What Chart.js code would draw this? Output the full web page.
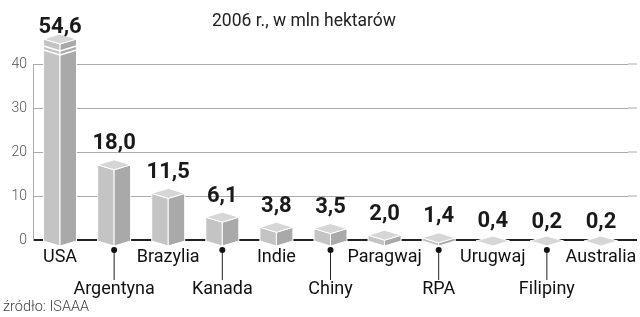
<!DOCTYPE html>
<html>
<head>
<meta charset="utf-8">
<script src="https://cdn.jsdelivr.net/npm/chart.js@4"></script>
<style>
  body { margin: 0; background: #fff; }
  #chart { display: block; }
</style>
</head>
<body>
<canvas id="chart" width="640" height="317"></canvas>
<script>
const countries = ['USA', 'Argentyna', 'Brazylia', 'Kanada', 'Indie', 'Chiny', 'Paragwaj', 'RPA', 'Urugwaj', 'Filipiny', 'Australia'];
const areas = [54.6, 18.0, 11.5, 6.1, 3.8, 3.5, 2.0, 1.4, 0.4, 0.2, 0.2];
const yTicks = [0, 10, 20, 30, 40];
const title = '2006 r., w mln hektarów';
const source = 'źródło: ISAAA';

Chart.defaults.font.family = 'Roboto, "Liberation Sans", sans-serif';

// odd labels go on the second row
const xLabels = countries.map((c, i) => i % 2 ? ['', c] : c);

// draws the 3D boxes, value labels, leader lines and texts
const boxes = {
  id: 'boxes',
  beforeDatasetsDraw(chart) {
    // gridlines run a little past the last category
    const ctx = chart.ctx;
    const y = chart.scales.y;
    const r = chart.chartArea.right;
    ctx.save();
    yTicks.forEach(t => {
      const py = y.getPixelForValue(t);
      ctx.beginPath();
      ctx.moveTo(r, py); ctx.lineTo(637, py);
      ctx.strokeStyle = t === 0 ? '#222222' : '#aaaaaa';
      ctx.lineWidth = t === 0 ? 2 : 1;
      ctx.stroke();
    });
    ctx.restore();
  },
  afterDatasetsDraw(chart) {
    const ctx = chart.ctx;
    const y = chart.scales.y;
    const base = y.getPixelForValue(0);
    const meta = chart.getDatasetMeta(0);
    ctx.save();
    meta.data.forEach((el, i) => {
      const cx = el.x;
      const w = el.width / 2;
      const h = 5;
      const v = Math.max(el.y, 35);
      const side = Math.min(v + 4, base + 1);
      const sideB = base + 1;
      const back = side - h, front = side + h, frontB = sideB + h;

      ctx.lineWidth = 1;
      ctx.strokeStyle = '#ffffff';
      ctx.lineJoin = 'round';
      // left face
      ctx.beginPath();
      ctx.moveTo(cx - w, side); ctx.lineTo(cx, front); ctx.lineTo(cx, frontB); ctx.lineTo(cx - w, sideB);
      ctx.closePath();
      ctx.fillStyle = '#c4c4c4'; ctx.fill(); ctx.stroke();
      // right face
      ctx.beginPath();
      ctx.moveTo(cx + w, side); ctx.lineTo(cx, front); ctx.lineTo(cx, frontB); ctx.lineTo(cx + w, sideB);
      ctx.closePath();
      ctx.fillStyle = '#a9a9a9'; ctx.fill(); ctx.stroke();
      // top
      ctx.beginPath();
      ctx.moveTo(cx, back); ctx.lineTo(cx + w, side); ctx.lineTo(cx, front); ctx.lineTo(cx - w, side);
      ctx.closePath();
      ctx.fillStyle = '#d6d6d6'; ctx.fill(); ctx.stroke();

      // break mark on the cut bar
      if (el.y < v) {
        [7, 11].forEach(d => {
          ctx.beginPath();
          ctx.moveTo(cx - w, side + d); ctx.lineTo(cx, front + d); ctx.lineTo(cx + w, side + d);
          ctx.lineWidth = 1.5;
          ctx.stroke();
        });
      }

      // value label
      ctx.fillStyle = '#1a1a1a';
      ctx.font = 'bold 22px Roboto, sans-serif';
      ctx.textAlign = 'center';
      ctx.textBaseline = 'middle';
      const ly = el.y < v ? 27 : v - 17;
      ctx.fillText(areas[i].toFixed(1).replace('.', ','), cx, ly);

      // leader for second row labels
      if (i % 2) {
        ctx.strokeStyle = '#222';
        ctx.lineWidth = 1;
        ctx.beginPath();
        ctx.moveTo(cx, 250); ctx.lineTo(cx, 280);
        ctx.stroke();
        ctx.beginPath();
        ctx.arc(cx, 250, 3, 0, Math.PI * 2);
        ctx.fillStyle = '#111';
        ctx.fill();
      }
    });

    ctx.textAlign = 'left';
    ctx.textBaseline = 'middle';
    ctx.fillStyle = '#222';
    ctx.font = '17.5px Roboto, sans-serif';
    ctx.fillText(title, 212, 22);
    ctx.fillStyle = '#444';
    ctx.font = '300 14.5px Roboto, sans-serif';
    ctx.fillText(source, 3, 307);
    ctx.restore();
  }
};

new Chart(document.getElementById('chart'), {
  type: 'bar',
  data: {
    labels: xLabels,
    datasets: [{
      data: areas,
      backgroundColor: 'rgba(0,0,0,0)',
      barPercentage: 0.61,
      categoryPercentage: 1
    }]
  },
  options: {
    responsive: false,
    animation: false,
    layout: { padding: { top: 64, right: 12, bottom: 19, left: 0 } },
    plugins: { legend: { display: false }, tooltip: { enabled: false } },
    scales: {
      x: {
        grid: { display: false },
        border: { display: false },
        ticks: {
          color: '#111',
          font: { size: 18, lineHeight: 32 / 18 },
          padding: -7,
          maxRotation: 0,
          autoSkip: false
        }
      },
      y: {
        min: 0,
        max: 40,
        afterFit(scale) { scale.width = 33; },
        border: { display: true, color: '#aaaaaa', width: 1 },
        grid: {
          drawTicks: false,
          color: c => c.tick.value === 0 ? '#222222' : '#aaaaaa',
          lineWidth: c => c.tick.value === 0 ? 2 : 1
        },
        ticks: {
          stepSize: 10,
          padding: 6,
          color: '#555',
          font: { size: 14, weight: '300' },
          callback: v => yTicks.includes(v) ? v : ''
        }
      }
    }
  },
  plugins: [boxes]
});
</script>
</body>
</html>
